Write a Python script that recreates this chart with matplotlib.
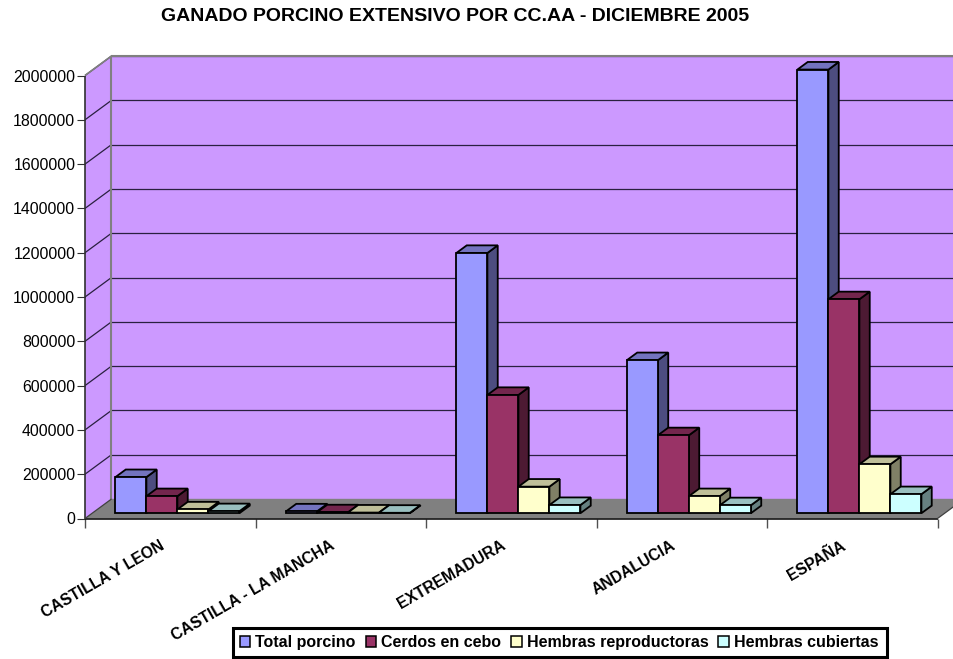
import matplotlib
matplotlib.use("Agg")
import matplotlib.pyplot as plt
from matplotlib.patches import Polygon, Patch, Rectangle
from matplotlib.colors import to_rgb
from matplotlib.transforms import ScaledTranslation

plt.rcParams['font.family'] = ['Liberation Sans', 'DejaVu Sans']

title = "GANADO PORCINO EXTENSIVO POR CC.AA - DICIEMBRE 2005"
categories = ["CASTILLA Y LEON", "CASTILLA - LA MANCHA", "EXTREMADURA", "ANDALUCIA", "ESPAÑA"]
total_porcino = [163000, 8000, 1175000, 691000, 2003000]
cerdos_cebo = [77000, 4000, 534000, 352000, 966000]
hembras_repro = [17000, 3000, 120000, 77000, 221000]
hembras_cub = [9000, 2000, 37000, 36000, 86000]
series_names = ["Total porcino", "Cerdos en cebo", "Hembras reproductoras", "Hembras cubiertas"]
series_values = [total_porcino, cerdos_cebo, hembras_repro, hembras_cub]
series_colors = ["#9999FF", "#993366", "#FFFFCC", "#CCFFFF"]
y_ticks = list(range(0, 2000001, 200000))

W, H = 954, 659
fig = plt.figure(figsize=(W / 100, H / 100), dpi=100, facecolor="white")
L, R, B, T = 85, 937.5, 518.5, 75.5
ax = fig.add_axes([L / W, 1 - B / H, (R - L) / W, (B - T) / H])
ax.set_xlim(0, 5)
ax.set_ylim(0, 2000000)
ax.patch.set_visible(False)
for s in ax.spines.values():
    s.set_visible(False)

DX = 26.5 / ((R - L) / 5)
DY = 19.5 / ((B - T) / 2000000)


def p(x, y, d):
    return (x + d * DX, y + d * DY)


def poly(pts, fc, ec="none", lw=0.0, z=1):
    ax.add_patch(Polygon(pts, closed=True, facecolor=fc, edgecolor=ec, linewidth=lw,
                         zorder=z, clip_on=False, joinstyle="miter"))


def line(a, b, color, lw=1.0, z=2):
    ax.plot([a[0], b[0]], [a[1], b[1]], color=color, lw=lw, zorder=z, clip_on=False,
            solid_capstyle="butt")


WALL = "#CC99FF"
ymax = 2000000
xend = 5
poly([p(0, 0, 1), p(xend, 0, 1), p(xend, ymax, 1), p(0, ymax, 1)], WALL, z=1)
poly([p(0, 0, 0), p(0, 0, 1), p(0, ymax, 1), p(0, ymax, 0)], WALL, z=1)
poly([p(0, 0, 0), p(xend, 0, 0), p(xend, 0, 1), p(0, 0, 1)], "#808080", z=1)

for v in y_ticks[1:]:
    line(p(0, v, 1), p(xend, v, 1), "#2A2040", 0.9, 2)
    line(p(0, v, 0), p(0, v, 1), "#2A2040", 0.9, 2)
line(p(0, ymax, 1), p(xend, ymax, 1), "#808080", 1.5, 3)
line(p(0, 0, 1), p(0, ymax, 1), "#808080", 1.5, 3)
line(p(0, 0, 0), p(0, ymax, 0), "#303030", 1.2, 3)
line(p(0, ymax, 0), p(0, ymax, 1), "#808080", 1.2, 3)
line(p(0, 0, 1), p(xend, 0, 1), "#808080", 1.0, 3)
line(p(0, 0, 0), p(xend, 0, 0), "black", 1.1, 4)
line(p(xend, 0, 0), p(xend, 0, 1), "#404040", 0.9, 4)
line(p(0, 0, 0), p(0, 0, 1), "#404040", 0.9, 4)

bar_w = 31 / ((R - L) / 5)
D0, D1 = 0.27, 0.66
base = D0 * DY
z = 10


def shade(c, f):
    return tuple(f * v for v in to_rgb(c))


for i in range(len(categories)):
    for j, vals in enumerate(series_values):
        c = series_colors[j]
        x = i + 0.5 + (j - 1.5) * bar_w + D0 * DX
        h = vals[i]
        l, r = x - bar_w / 2, x + bar_w / 2
        top = base + h
        dd = D1 - D0
        poly([(r, base), (r + dd * DX, base + dd * DY), (r + dd * DX, top + dd * DY), (r, top)],
             shade(c, 0.5), "black", 1.3, z)
        poly([(l, top), (r, top), (r + dd * DX, top + dd * DY), (l + dd * DX, top + dd * DY)],
             shade(c, 0.75), "black", 1.3, z)
        ax.bar(x, h, width=bar_w, bottom=base, color=c, edgecolor="black", linewidth=1.3,
               zorder=z + 0.5, clip_on=False)
        z += 1

ax.set_yticks(y_ticks)
ax.set_yticklabels([str(v) for v in y_ticks])
ax.tick_params(axis="y", length=6, width=0.8, color="#303030", labelsize=11.4, pad=1)
ax.set_xticks(range(len(categories) + 1))
ax.set_xticklabels([])
ax.tick_params(axis="x", which="major", length=6.5, width=1.0, color="#505050")
ax.set_xticks([i + 0.5 for i in range(len(categories))], minor=True)
ax.set_xticklabels(categories, minor=True, rotation=30, ha="right", va="top",
                   rotation_mode="anchor", fontweight="bold", fontsize=11.3)
ax.tick_params(axis="x", which="minor", length=0, pad=14)
shift = ScaledTranslation(-11 / 100, 0, fig.dpi_scale_trans)
for lbl in ax.get_xticklabels(minor=True):
    lbl.set_transform(lbl.get_transform() + shift)

fig.text(455.5 / W, 1 - 16.5 / H, title, ha="center", va="center", fontweight="bold", fontsize=14)

# legend box and entries
fig.add_artist(Rectangle((233.5 / W, 1 - 657 / H), 653.5 / W, 29 / H, transform=fig.transFigure,
                         facecolor="white", edgecolor="black", linewidth=2.2, zorder=20))
handles = [Patch(facecolor=c, edgecolor="black", linewidth=1.1) for c in series_colors]
leg = fig.legend(handles, series_names, ncol=4, loc="center left",
                 bbox_to_anchor=(240 / W, 1 - 642.5 / H), frameon=False,
                 prop={"weight": "bold", "size": 11.5}, handlelength=0.65, handleheight=0.65,
                 handletextpad=0.32, columnspacing=0.62, borderpad=0, borderaxespad=0)
leg.set_zorder(21)

fig.savefig("out.png", dpi=100, facecolor="white")
